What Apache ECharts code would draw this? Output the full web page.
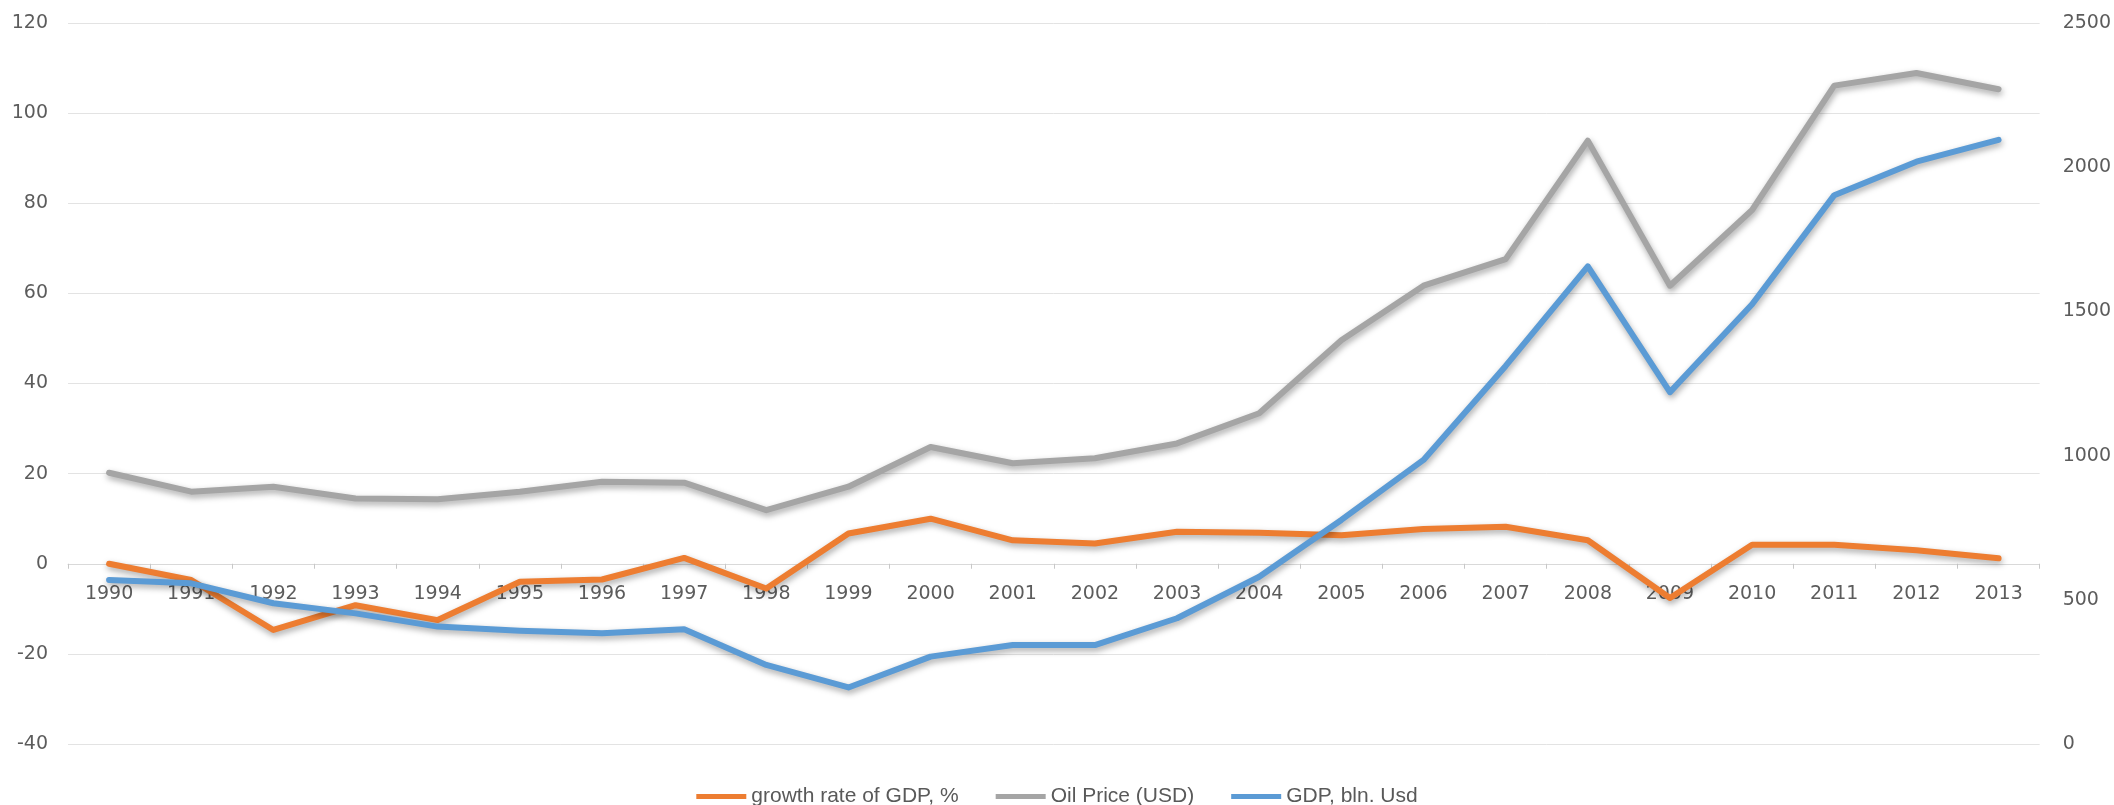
<!DOCTYPE html>
<html>
<head>
<meta charset="utf-8">
<script src="https://cdn.jsdelivr.net/npm/echarts@6/dist/echarts.min.js"></script>
<style>
html,body{margin:0;padding:0;background:#fff;}
#chart{width:2114px;height:805px;}
</style>
</head>
<body>
<div id="chart"></div>
<script>
const years = ['1990','1991','1992','1993','1994','1995','1996','1997','1998','1999','2000','2001','2002','2003','2004','2005','2006','2007','2008','2009','2010','2011','2012','2013'];
const growthRate = [0, -3.6, -14.7, -9.2, -12.5, -4.0, -3.5, 1.3, -5.5, 6.7, 10.0, 5.2, 4.5, 7.1, 6.9, 6.3, 7.7, 8.2, 5.2, -7.6, 4.2, 4.2, 3.0, 1.2];
const oilPrice = [20.2, 16.0, 17.1, 14.5, 14.3, 16.0, 18.2, 18.0, 11.9, 17.1, 25.9, 22.3, 23.4, 26.7, 33.4, 49.6, 61.7, 67.6, 93.9, 61.7, 78.5, 106.1, 108.9, 105.3];
const gdp = [569, 557, 488, 453, 407, 393, 384, 398, 274, 196, 303, 343, 343, 436, 580, 777, 985, 1311, 1656, 1220, 1525, 1903, 2019, 2095];
const seriesNames = ['growth rate of GDP, %', 'Oil Price (USD)', 'GDP, bln. Usd'];
const colors = ['#ED7D31', '#A5A5A5', '#5B9BD5'];
const leftMin = -40, leftMax = 120, leftStep = 20;
const rightMin = 0, rightMax = 2500, rightStep = 500;

const W = 2114, H = 805;
const gridLeft = 68, gridRight = 74, gridTop = 23, gridBottom = 61;
const gridH = H - gridTop - gridBottom;
// category axis sits at the zero line of the left axis
const xOffset = -gridH * (0 - leftMin) / (leftMax - leftMin);

const chart = echarts.init(document.getElementById('chart'), null, {renderer: 'canvas'});
const labelStyle = {color: '#5c5c5c', fontFamily: 'DejaVu Sans', fontSize: 19};
function lineSeries(name, data, color, yIdx) {
  return {
    name: name, type: 'line', yAxisIndex: yIdx, data: data,
    showSymbol: false, symbol: 'none', smooth: false,
    itemStyle: {color: color},
    lineStyle: {color: color, width: 6, cap: 'round', join: 'round',
      shadowColor: 'rgba(0,0,0,0.35)', shadowBlur: 6, shadowOffsetX: 1, shadowOffsetY: 3},
    emphasis: {disabled: true},
    animation: false
  };
}
chart.setOption({
  animation: false,
  color: colors,
  grid: {left: gridLeft, right: gridRight, top: gridTop, bottom: gridBottom, containLabel: false},
  legend: {
    data: seriesNames.map((n, i) => ({name: n, icon: 'rect', itemStyle: {color: colors[i]}})),
    left: 'center', top: 781,
    itemWidth: 50, itemHeight: 5, itemGap: 37,
    textStyle: {color: '#595959', fontFamily: 'Liberation Sans', fontSize: 21}
  },
  xAxis: {
    type: 'category', data: years, boundaryGap: true, position: 'bottom', offset: xOffset,
    axisLine: {show: true, onZero: false, lineStyle: {color: '#d9d9d9', width: 1}},
    axisTick: {show: true, length: 5, lineStyle: {color: '#c8c8c8'}},
    axisLabel: Object.assign({margin: 21, interval: 0}, labelStyle),
    splitLine: {show: false}
  },
  yAxis: [
    {type: 'value', min: leftMin, max: leftMax, interval: leftStep,
     axisLine: {show: false}, axisTick: {show: false},
     axisLabel: Object.assign({margin: 20, formatter: v => String(v)}, labelStyle),
     splitLine: {show: true, lineStyle: {color: '#e3e3e3', width: 1}}},
    {type: 'value', min: rightMin, max: rightMax, interval: rightStep, position: 'right',
     axisLine: {show: false}, axisTick: {show: false},
     axisLabel: Object.assign({margin: 23, formatter: v => String(v)}, labelStyle),
     splitLine: {show: false}}
  ],
  series: [
    lineSeries(seriesNames[0], growthRate, colors[0], 0),
    lineSeries(seriesNames[1], oilPrice, colors[1], 0),
    lineSeries(seriesNames[2], gdp, colors[2], 1)
  ]
});
</script>
</body>
</html>
